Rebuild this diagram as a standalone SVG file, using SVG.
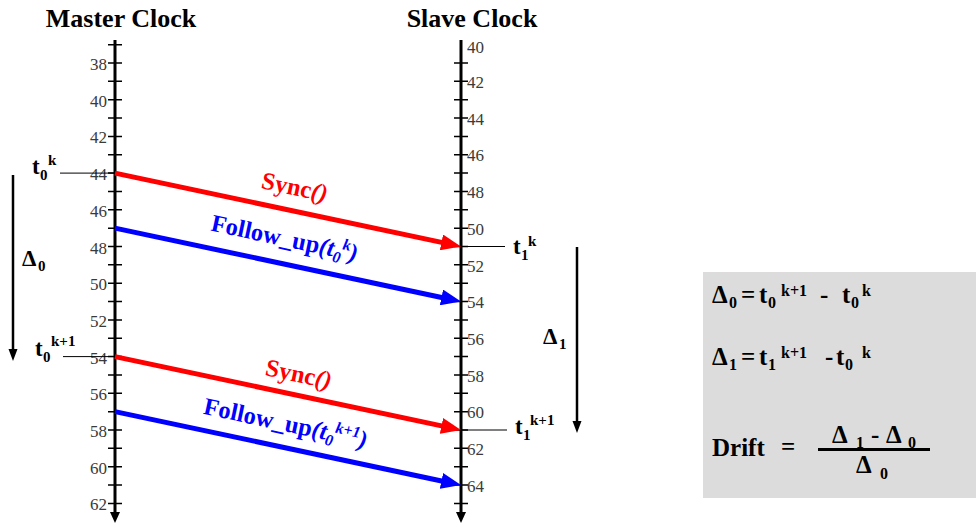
<svg xmlns="http://www.w3.org/2000/svg" width="976" height="523" viewBox="0 0 976 523">
<defs>
<style>
.t{font-weight:bold;fill:#000}
.title{font-size:26px}
.num{font-size:17px;fill:#3a3a3a}
.big{font-size:23px}
.sm{font-size:15px}
.fb{font-size:25px}
.fs{font-size:16px}
.axis{stroke:#000;stroke-width:3}
.tick{stroke:#000;stroke-width:1.5}
.thin{stroke:#000;stroke-width:1}
.red{stroke:#ff0000;stroke-width:5;fill:none}
.blue{stroke:#0000ff;stroke-width:5;fill:none}
.lr{fill:#ff0000;font-size:24.5px}
.lb{fill:#0000ff;font-size:24.5px}
.it{font-style:italic}
</style>
<marker id="ar" viewBox="0 0 20 16" markerUnits="userSpaceOnUse" markerWidth="20" markerHeight="16" refX="5" refY="8" orient="auto"><path d="M0,0 L20,8 L0,16 z" fill="#ff0000"/></marker>
<marker id="ab" viewBox="0 0 20 16" markerUnits="userSpaceOnUse" markerWidth="20" markerHeight="16" refX="5" refY="8" orient="auto"><path d="M0,0 L20,8 L0,16 z" fill="#0000ff"/></marker>
</defs>
<rect width="976" height="523" fill="#fff"/>
<g font-family="Liberation Serif, Times New Roman, serif">

<g id="master-clock">
<text class="t title" x="121" y="27" text-anchor="middle">Master Clock</text>
<line class="axis" x1="115" y1="40" x2="115" y2="514"/>
<path d="M110,512 L120,512 L115,523 z" fill="#000"/>
<path class="tick" d="M108,44.65H122M108,63H122M108,81.35H122M108,99.7H122M108,118.05H122M108,136.4H122M108,154.75H122M108,173.1H122M108,191.45H122M108,209.8H122M108,228.15H122M108,246.5H122M108,264.85H122M108,283.2H122M108,301.55H122M108,319.9H122M108,338.25H122M108,356.6H122M108,374.95H122M108,393.3H122M108,411.65H122M108,430H122M108,448.35H122M108,466.7H122M108,485.05H122M108,503.4H122"/>
<g class="num" text-anchor="end">
<text x="107" y="70">38</text><text x="107" y="106.7">40</text><text x="107" y="143.4">42</text><text x="107" y="180.1">44</text><text x="107" y="216.8">46</text><text x="107" y="253.5">48</text><text x="107" y="290.2">50</text><text x="107" y="326.9">52</text><text x="107" y="363.6">54</text><text x="107" y="400.3">56</text><text x="107" y="437">58</text><text x="107" y="473.7">60</text><text x="107" y="510.4">62</text>
</g>
</g>

<g id="slave-clock">
<text class="t title" x="472" y="27" text-anchor="middle">Slave Clock</text>
<line class="axis" x1="461" y1="40" x2="461" y2="514"/>
<path d="M456,512 L466,512 L461,523 z" fill="#000"/>
<path class="tick" d="M454,63H468M454,81.35H468M454,99.7H468M454,118.05H468M454,136.4H468M454,154.75H468M454,173.1H468M454,191.45H468M454,209.8H468M454,228.15H468M454,246.5H468M454,264.85H468M454,283.2H468M454,301.55H468M454,319.9H468M454,338.25H468M454,356.6H468M454,374.95H468M454,393.3H468M454,411.65H468M454,430H468M454,448.35H468M454,466.7H468M454,485.05H468M454,503.4H468"/>
<g class="num">
<text x="467" y="53">40</text><text x="467" y="88">42</text><text x="467" y="124.7">44</text><text x="467" y="161.4">46</text><text x="467" y="198.1">48</text><text x="467" y="234.8">50</text><text x="467" y="271.5">52</text><text x="467" y="308.2">54</text><text x="467" y="344.9">56</text><text x="467" y="381.6">58</text><text x="467" y="418.3">60</text><text x="467" y="455">62</text><text x="467" y="491.7">64</text>
</g>
</g>

<g id="master-markers">
<line class="thin" x1="60" y1="173.1" x2="115" y2="173.1"/>
<text class="t"><tspan class="big" x="32" y="174">t</tspan><tspan class="sm" x="40" y="180">0</tspan><tspan class="sm" x="48" y="165">k</tspan></text>
<line class="thin" x1="63" y1="356.6" x2="115" y2="356.6"/>
<text class="t"><tspan class="big" x="35" y="356">t</tspan><tspan class="sm" x="43" y="362">0</tspan><tspan class="sm" x="51" y="346">k+1</tspan></text>
</g>

<g id="delta0">
<line stroke="#000" stroke-width="2.5" x1="13" y1="175" x2="13" y2="352"/>
<path d="M8.5,349 L17.5,349 L13,361 z" fill="#000"/>
<text class="t"><tspan class="big" x="22" y="266">Δ</tspan><tspan class="sm" x="38" y="271">0</tspan></text>
</g>

<g id="slave-markers">
<line class="thin" x1="461" y1="246.5" x2="505" y2="246.5"/>
<text class="t"><tspan class="big" x="513" y="254">t</tspan><tspan class="sm" x="521" y="260">1</tspan><tspan class="sm" x="528" y="246">k</tspan></text>
<line class="thin" x1="461" y1="430" x2="507" y2="430"/>
<text class="t"><tspan class="big" x="515" y="434">t</tspan><tspan class="sm" x="523" y="440">1</tspan><tspan class="sm" x="530" y="425">k+1</tspan></text>
</g>

<g id="delta1">
<line stroke="#000" stroke-width="2.5" x1="577" y1="247" x2="577" y2="424"/>
<path d="M572.5,421 L581.5,421 L577,433 z" fill="#000"/>
<text class="t"><tspan class="big" x="543" y="344">Δ</tspan><tspan class="sm" x="559" y="349">1</tspan></text>
</g>

<g id="connectors">
<line class="red" x1="115" y1="173.1" x2="446.33" y2="243.39" marker-end="url(#ar)"/>
<line class="blue" x1="115" y1="228.15" x2="446.33" y2="298.44" marker-end="url(#ab)"/>
<line class="red" x1="115" y1="356.6" x2="446.33" y2="426.89" marker-end="url(#ar)"/>
<line class="blue" x1="115" y1="411.65" x2="446.33" y2="481.94" marker-end="url(#ab)"/>
<text class="t lr" x="293" y="195" text-anchor="middle" transform="rotate(12 293 195)">Sync<tspan class="it">()</tspan></text>
<text class="t lb" x="283" y="246" text-anchor="middle" transform="rotate(12 283 246)">Follow_up<tspan class="it">(t<tspan font-size="16" dy="5">0</tspan><tspan font-size="16" dy="-14">k</tspan><tspan dy="9">)</tspan></tspan></text>
<text class="t lr" x="297" y="382" text-anchor="middle" transform="rotate(12 297 382)">Sync<tspan class="it">()</tspan></text>
<text class="t lb" x="284" y="431" text-anchor="middle" transform="rotate(12 284 431)">Follow_up<tspan class="it">(t<tspan font-size="16" dy="5">0</tspan><tspan font-size="16" dy="-14">k+1</tspan><tspan dy="9">)</tspan></tspan></text>
</g>

<g id="formula-box">
<rect x="703" y="272" width="273" height="226" fill="#dcdcdc"/>
<text class="t"><tspan class="fb" x="712" y="303">Δ</tspan><tspan class="fs" x="729" y="308">0</tspan><tspan class="fb" x="741" y="303">=</tspan><tspan class="fb" x="759" y="303">t</tspan><tspan class="fs" x="768" y="308">0</tspan><tspan class="fs" x="781" y="296">k+1</tspan><tspan class="fb" x="820" y="303">-</tspan><tspan class="fb" x="842" y="303">t</tspan><tspan class="fs" x="851" y="308">0</tspan><tspan class="fs" x="862" y="296">k</tspan></text>
<text class="t"><tspan class="fb" x="712" y="365">Δ</tspan><tspan class="fs" x="729" y="370">1</tspan><tspan class="fb" x="741" y="365">=</tspan><tspan class="fb" x="759" y="365">t</tspan><tspan class="fs" x="768" y="370">1</tspan><tspan class="fs" x="781" y="358">k+1</tspan><tspan class="fb" x="825" y="365">-</tspan><tspan class="fb" x="836" y="365">t</tspan><tspan class="fs" x="845" y="370">0</tspan><tspan class="fs" x="862" y="358">k</tspan></text>
<text class="t"><tspan class="fb" x="712" y="456">Drift</tspan><tspan class="fb" x="781" y="455">=</tspan></text>
<rect x="818" y="448" width="112" height="3" fill="#000"/>
<text class="t"><tspan class="fb" x="832" y="443">Δ</tspan><tspan class="fs" x="856" y="448">1</tspan><tspan class="fb" x="871" y="443">-</tspan><tspan class="fb" x="886" y="443">Δ</tspan><tspan class="fs" x="908" y="448">0</tspan></text>
<text class="t"><tspan class="fb" x="856" y="473">Δ</tspan><tspan class="fs" x="880" y="479">0</tspan></text>
</g>
</g>
</svg>
